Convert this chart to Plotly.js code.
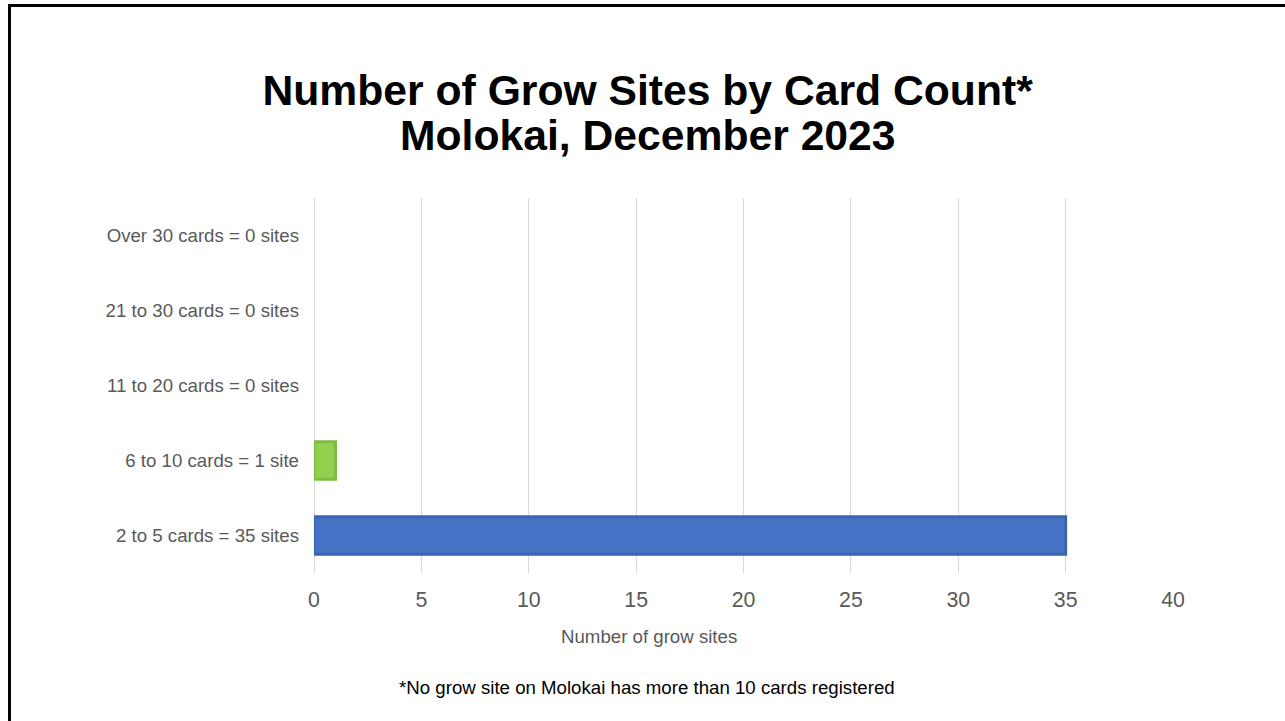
<!DOCTYPE html>
<html>
<head>
<meta charset="utf-8">
<script src="https://cdn.plot.ly/plotly-3.0.1.min.js"></script>
<style>
html,body{margin:0;padding:0;background:#fff;overflow:hidden;}
#frame{position:absolute;left:8px;top:4px;width:1300px;height:740px;border-left:3px solid #000;border-top:3px solid #000;box-sizing:border-box;pointer-events:none;z-index:10;}
#chart{position:absolute;left:0;top:0;width:1285px;height:721px;}
</style>
</head>
<body>
<div id="chart"></div>
<div id="frame"></div>
<script>
const categories = ["2 to 5 cards = 35 sites", "6 to 10 cards = 1 site", "11 to 20 cards = 0 sites", "21 to 30 cards = 0 sites", "Over 30 cards = 0 sites"];
const siteCounts = [35, 1, 0, 0, 0];
const fillColors = ["#4472C4", "#92D050", "#92D050", "#92D050", "#92D050"];
const lineColors = ["#3B63AE", "#7DBB42", "#7DBB42", "#7DBB42", "#7DBB42"];
const xTicks = [0, 5, 10, 15, 20, 25, 30, 35, 40];
const titleLines = ["Number of Grow Sites by Card Count*", "Molokai, December 2023"];
const xAxisTitle = "Number of grow sites";
const footnote = "*No grow site on Molokai has more than 10 cards registered";

const data = [{
  type: "bar",
  orientation: "h",
  y: categories,
  x: siteCounts,
  width: 0.5,
  marker: {color: fillColors, line: {color: lineColors, width: siteCounts.map(v => v > 0 ? 3 : 0)}},
  hoverinfo: "none"
}];

const layout = {
  width: 1285, height: 721,
  paper_bgcolor: "#fff", plot_bgcolor: "#fff",
  margin: {l: 314, r: 112, t: 198, b: 148, pad: 0},
  showlegend: false,
  font: {family: "Liberation Sans, Arial, sans-serif", color: "#595959"},
  title: {
    text: "<b>" + titleLines[0] + "</b>",
    font: {size: 42.67, color: "#000", family: "Liberation Sans, Arial, sans-serif"},
    x: 0.504, xanchor: "center", y: 1 - 90/721, yanchor: "middle", yref: "container"
  },
  xaxis: {
    range: [0, 40], tickvals: xTicks, ticktext: xTicks.map(String),
    showgrid: true, gridcolor: "#D9D9D9", gridwidth: 1,
    zeroline: true, zerolinecolor: "#D9D9D9", zerolinewidth: 1,
    showline: false, ticks: "", ticklabelstandoff: 12,
    tickfont: {size: 21.33, color: "#595959"},
    fixedrange: true
  },
  yaxis: {
    categoryorder: "array", categoryarray: categories,
    showgrid: false, zeroline: false, showline: false, ticks: "",
    ticklabelstandoff: 14,
    tickfont: {size: 18.67, color: "#595959"},
    automargin: false, fixedrange: true
  },
  annotations: [
    {text: "<b>" + titleLines[1] + "</b>", xref: "paper", yref: "paper", x: (648 - 314) / 859, y: (573 - 135) / 375, xanchor: "center", yanchor: "middle", showarrow: false, font: {size: 42.67, color: "#000"}},
    {text: xAxisTitle, xref: "paper", yref: "paper", x: 0.39, y: -0.168, xanchor: "center", yanchor: "middle", showarrow: false, font: {size: 18.67, color: "#595959"}},
    {text: footnote, xref: "paper", yref: "paper", x: 0.388, y: -0.304, xanchor: "center", yanchor: "middle", showarrow: false, font: {size: 18.67, color: "#000"}}
  ]
};

Plotly.newPlot("chart", data, layout, {staticPlot: true, displayModeBar: false});
</script>
</body>
</html>
